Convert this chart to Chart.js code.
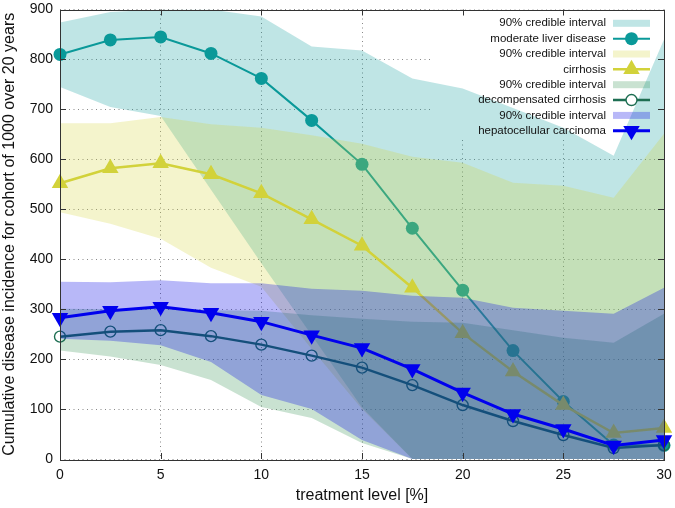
<!DOCTYPE html>
<html>
<head>
<meta charset="utf-8">
<script src="https://cdn.jsdelivr.net/npm/chart.js@4/dist/chart.umd.min.js"></script>
<style>
  html, body { margin: 0; padding: 0; background: #fff; }
</style>
</head>
<body>
<canvas id="data_viz" width="675" height="508"></canvas>
<script>
// treatment levels on the x axis [%]
var treatment = [0, 2.5, 5, 7.5, 10, 12.5, 15, 17.5, 20, 22.5, 25, 27.5, 30];

// moderate liver disease + 90% credible interval
var liverMean = [810, 839, 845, 812, 762, 678, 590, 462, 338, 217, 115, 28, 27];
var liverLow  = [745, 705, 687, 539, 392, 248, 103, 0, 0, 0, 0, 0, 0];
var liverHigh = [874, 895, 900, 900, 886, 826, 818, 762, 742, 703, 663, 607, 840];

// cirrhosis
var cirrMean = [552, 582, 592, 570, 532, 480, 427, 343, 252, 175, 108, 52, 62];
var cirrLow  = [494, 471, 441, 383, 345, 220, 100, 0, 0, 0, 0, 0, 0];
var cirrHigh = [672, 672, 685, 670, 663, 648, 631, 605, 593, 553, 547, 523, 651];

// decompensated cirrhosis
var decompMean = [245, 255, 258, 246, 229, 207, 183, 148, 108, 76, 48, 22, 28];
var decompLow  = [217, 205, 188, 158, 104, 82, 32, 0, 0, 0, 0, 0, 0];
var decompHigh = [301, 300, 303, 298, 297, 288, 281, 275, 273, 258, 243, 233, 291];

// hepatocellular carcinoma
var hccMean = [283, 297, 305, 293, 275, 248, 222, 180, 133, 90, 60, 27, 38];
var hccLow  = [241, 237, 228, 194, 128, 100, 38, 0, 0, 0, 0, 0, 0];
var hccHigh = [355, 354, 358, 352, 352, 341, 337, 327, 323, 303, 297, 291, 343];

var xTicks = [0, 5, 10, 15, 20, 25, 30];
var yTicks = [0, 100, 200, 300, 400, 500, 600, 700, 800, 900];

var fontFamily = "'Liberation Sans', Arial, Helvetica, sans-serif";

function pts(ys) {
  return treatment.map(function(x, i) { return {x: x, y: ys[i]}; });
}

// invisible lower edge of a band
function lowEdge(ys) {
  return {
    data: pts(ys), borderWidth: 0, borderColor: 'transparent',
    pointRadius: 0, fill: false, order: 20
  };
}

// upper edge, filled down to the previous dataset
function highEdge(ys, color, order) {
  return {
    label: '90% credible interval', keyType: 'band',
    data: pts(ys), borderWidth: 0, borderColor: 'transparent',
    backgroundColor: color, pointRadius: 0, fill: '-1', order: order
  };
}

function meanLine(label, ys, color, width, style, radius, rot, open, order) {
  return {
    label: label, keyType: 'line',
    data: pts(ys), borderColor: color, borderWidth: width,
    pointStyle: style, pointRadius: radius, pointRotation: rot,
    pointBackgroundColor: open ? 'transparent' : color,
    pointBorderColor: color, pointBorderWidth: open ? 1.4 : 0,
    open: open, fill: false, clip: false, order: order
  };
}

// grid hidden behind the key, frame and inward tick marks, then the key itself
var keyPlugin = {
  id: 'gnuKey',
  beforeDatasetsDraw: function(chart) {
    var ctx = chart.ctx, a = chart.chartArea;
    ctx.save();
    ctx.fillStyle = '#fff';
    ctx.fillRect(433, a.top, a.right - 433, 138 - a.top);
    ctx.restore();
  },
  afterDatasetsDraw: function(chart) {
    var ctx = chart.ctx, a = chart.chartArea;
    var xs = chart.scales.x, ys = chart.scales.y;
    ctx.save();
    ctx.strokeStyle = '#333';
    ctx.lineWidth = 1;
    ctx.strokeRect(Math.round(a.left) + 0.5, Math.round(a.top) + 0.5,
      Math.round(a.right - a.left), Math.round(a.bottom - a.top));
    ctx.beginPath();
    xTicks.slice(1, -1).forEach(function(v) {
      var px = Math.round(xs.getPixelForValue(v)) + 0.5;
      ctx.moveTo(px, a.bottom); ctx.lineTo(px, a.bottom - 6);
      ctx.moveTo(px, a.top); ctx.lineTo(px, a.top + 6);
    });
    yTicks.slice(1, -1).forEach(function(v) {
      var py = Math.round(ys.getPixelForValue(v)) + 0.5;
      ctx.moveTo(a.left, py); ctx.lineTo(a.left + 6, py);
      ctx.moveTo(a.right, py); ctx.lineTo(a.right - 6, py);
    });
    ctx.stroke();

    // key
    var textRight = 606, k0 = 613, k1 = 650, kc = (k0 + k1) / 2;
    var y = 23.3;
    ctx.font = '11.5px ' + fontFamily;
    ctx.textAlign = 'right';
    ctx.textBaseline = 'middle';
    chart.data.datasets.forEach(function(ds) {
      if (!ds.label) return;
      ctx.fillStyle = '#111';
      ctx.fillText(ds.label, textRight, y);
      if (ds.keyType === 'band') {
        ctx.fillStyle = ds.backgroundColor;
        ctx.fillRect(k0, y - 3.5, k1 - k0, 7);
      } else {
        ctx.strokeStyle = ds.borderColor;
        ctx.lineWidth = ds.borderWidth;
        ctx.beginPath();
        ctx.moveTo(k0, y); ctx.lineTo(k1, y);
        ctx.stroke();
        drawMarker(ctx, ds, kc, y);
      }
      y += 15.35;
    });
    ctx.restore();
  }
};

function drawMarker(ctx, ds, x, y) {
  var r = ds.pointRadius;
  ctx.beginPath();
  if (ds.pointStyle === 'circle') {
    ctx.arc(x, y, r, 0, Math.PI * 2);
  } else {
    var rad = (ds.pointRotation || 0) * Math.PI / 180;
    for (var i = 0; i < 3; i++) {
      var ang = rad + i * 2 * Math.PI / 3;
      var px = x + Math.sin(ang) * r, py = y - Math.cos(ang) * r;
      if (i === 0) ctx.moveTo(px, py); else ctx.lineTo(px, py);
    }
    ctx.closePath();
  }
  if (ds.open) {
    ctx.fillStyle = '#fff';
    ctx.fill();
    ctx.lineWidth = ds.pointBorderWidth;
    ctx.strokeStyle = ds.borderColor;
    ctx.stroke();
  } else {
    ctx.fillStyle = ds.borderColor;
    ctx.fill();
  }
}

var ctx = document.getElementById('data_viz');
var chart = new Chart(ctx, {
  type: 'line',
  data: {
    datasets: [
      lowEdge(liverLow),
      highEdge(liverHigh, 'rgba(0, 153, 153, 0.25)', 8),
      meanLine('moderate liver disease', liverMean, '#0a9999', 2, 'circle', 6.5, 0, false, 7),
      lowEdge(cirrLow),
      highEdge(cirrHigh, 'rgba(210, 210, 50, 0.25)', 6),
      meanLine('cirrhosis', cirrMean, '#d2d23a', 2.5, 'triangle', 9.5, 0, false, 5),
      lowEdge(decompLow),
      highEdge(decompHigh, 'rgba(40, 140, 70, 0.25)', 4),
      meanLine('decompensated cirrhosis', decompMean, '#1d6e52', 2.5, 'circle', 5.5, 0, true, 3),
      lowEdge(hccLow),
      highEdge(hccHigh, 'rgba(0, 0, 230, 0.28)', 2),
      meanLine('hepatocellular carcinoma', hccMean, '#0000ee', 3, 'triangle', 9.5, 180, false, 1)
    ]
  },
  options: {
    responsive: false,
    animation: false,
    events: [],
    layout: { padding: 0 },
    plugins: {
      legend: { display: false },
      tooltip: { enabled: false }
    },
    elements: { line: { tension: 0 } },
    scales: {
      x: {
        type: 'linear', min: 0, max: 30,
        afterBuildTicks: function(s) { s.ticks = xTicks.map(function(v) { return {value: v}; }); },
        afterFit: function(s) { s.height = 49; s.paddingLeft = 0; s.paddingRight = 11; },
        ticks: { padding: 9, color: '#111', font: { family: fontFamily, size: 14, lineHeight: 1 } },
        grid: { color: '#888', lineWidth: 1, drawTicks: false },
        border: { display: false, dash: [1, 3.5] },
        title: {
          display: true, text: 'treatment level [%]', color: '#111',
          font: { family: fontFamily, size: 16 }, padding: { top: 0, bottom: 2.5 }
        }
      },
      y: {
        type: 'linear', min: 0, max: 900,
        afterBuildTicks: function(s) { s.ticks = yTicks.map(function(v) { return {value: v}; }); },
        afterFit: function(s) { s.width = 60; s.paddingTop = 7.5; s.paddingBottom = 0; },
        ticks: { padding: 7, color: '#111', font: { family: fontFamily, size: 14, lineHeight: 1 } },
        grid: { color: '#888', lineWidth: 1, drawTicks: false },
        border: { display: false, dash: [1, 3.5] },
        title: {
          display: true, text: 'Cumulative disease incidence for cohort of 1000 over 20 years', color: '#111',
          font: { family: fontFamily, size: 16 }, padding: { top: 0, bottom: 0 }
        }
      }
    }
  },
  plugins: [keyPlugin]
});
</script>
</body>
</html>
